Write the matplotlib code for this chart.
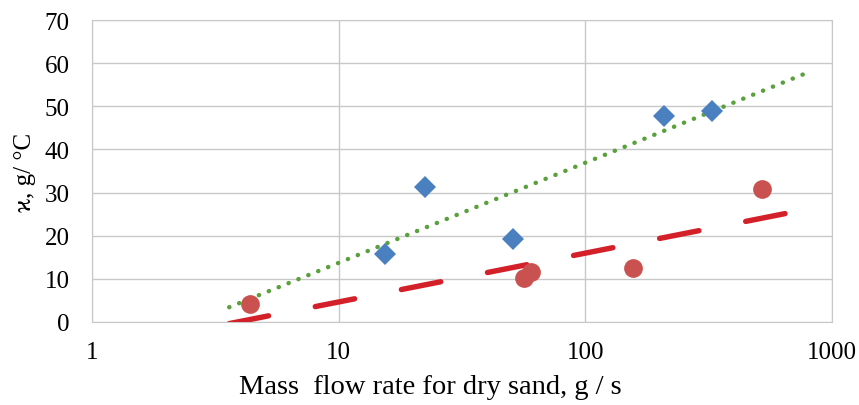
import numpy as np
import matplotlib
matplotlib.use("Agg")
import matplotlib.pyplot as plt

# data
blue_x = [15.4, 22.3, 51.1, 209, 327]
blue_y = [15.8, 31.3, 19.3, 47.8, 49.0]
red_x = [4.36, 56.6, 60.0, 156, 521]
red_y = [4.2, 10.3, 11.5, 12.5, 30.9]
trend_range = [3.6, 770]

plt.rcParams['font.family'] = ['Liberation Serif', 'DejaVu Serif']

fig = plt.figure(figsize=(8.59, 4.06), dpi=100)
ax = fig.add_axes([92 / 859, 1 - 323 / 406, 740 / 859, 302 / 406])


def log_fit(x, y):
    # logarithmic trend line (same as the spreadsheet trendline)
    k, b = np.polyfit(np.log10(x), y, 1)
    xs = np.logspace(np.log10(trend_range[0]), np.log10(trend_range[1]), 200)
    return xs, k * np.log10(xs) + b


gx, gy = log_fit(blue_x, blue_y)
rx, ry = log_fit(red_x, red_y)

ax.plot(gx, gy, color='#5aa03c', lw=3.2, dashes=(0.05, 2.35),
        dash_capstyle='round', zorder=3)
ax.plot(rx, ry, color='#d42029', lw=3.9, dashes=(7.4, 8.8),
        dash_capstyle='round', zorder=3)
ax.plot(blue_x, blue_y, 'D', color='#4a7fc0', ms=11.5, mew=0, zorder=4)
ax.plot(red_x, red_y, 'o', color='#c9514f', ms=13.5, mew=0, zorder=4)

ax.set_xscale('log')
ax.set_xlim(1, 1000)
ax.set_ylim(0, 70)
ax.set_yticks(range(0, 71, 10))
ax.set_xticks([1, 10, 100, 1000])
ax.set_xticklabels(['1', '10', '100', '1000'])
ax.minorticks_off()
ax.grid(True, color='#c8c8c8', lw=1.0)
ax.set_axisbelow(True)
for s in ax.spines.values():
    s.set_color('#c8c8c8')
ax.tick_params(length=0, labelsize=18)
ax.tick_params(axis='y', pad=16)
ax.tick_params(axis='x', pad=14)

ax.set_xlabel('Mass  flow rate for dry sand, g / s', fontsize=20.5)
ax.xaxis.set_label_coords((430 - 92) / 740, -(388 - 323) / 302)
ax.xaxis.label.set_va('center')
ax.set_ylabel('ϰ, g/ °C', fontsize=18, labelpad=6)

fig.savefig('out.png', dpi=100)
